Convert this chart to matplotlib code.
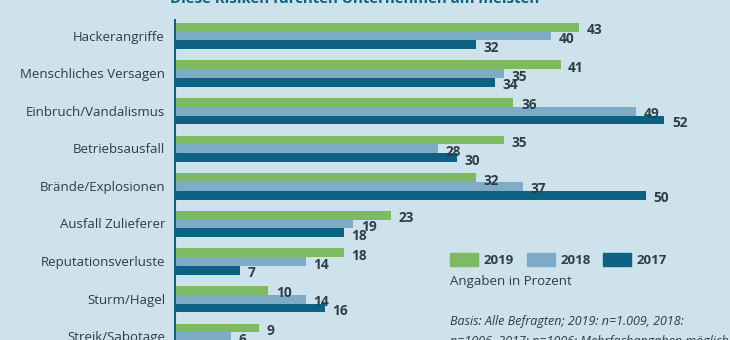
import matplotlib
matplotlib.use("Agg")
import matplotlib.pyplot as plt
import numpy as np

categories = ["Hackerangriffe", "Menschliches Versagen", "Einbruch/Vandalismus",
              "Betriebsausfall", "Brände/Explosionen", "Ausfall Zulieferer",
              "Reputationsverluste", "Sturm/Hagel", "Streik/Sabotage"]
v2019 = [43, 41, 36, 35, 32, 23, 18, 10, 9]
v2018 = [40, 35, 49, 28, 37, 19, 14, 14, 6]
v2017 = [32, 34, 52, 30, 50, 18, 7, 16, 5]
years = ["2019", "2018", "2017"]
colors = ["#7dba62", "#7eacc6", "#0d6283"]

BG = "#cde2eb"
TXT = "#2e3d48"
W, H = 730, 340
fig = plt.figure(figsize=(W / 100, H / 100), dpi=100)
fig.patch.set_facecolor(BG)

ax = fig.add_axes([174 / W, 0, 1 - 174 / W, 1])
ax.set_facecolor(BG)
ax.patch.set_alpha(0)

y = np.arange(len(categories))
bh = 0.235
for k, (vals, c) in enumerate(zip([v2019, v2018, v2017], colors)):
    off = (k - 1) * bh
    ax.barh(y + off, vals, height=bh, color=c, edgecolor="none")
    for yi, v in zip(y, vals):
        ax.text(v + 0.8, yi + off + 0.08, str(v), ha="left", va="center",
                fontsize=9.8, fontweight="bold", color=TXT, family="Open Sans")

ax.set_xlim(0, (W - 174) / 9.43)
spacing = 37.6
c0 = 36
ax.set_ylim((H - c0) / spacing, -c0 / spacing)
ax.set_xticks([])
ax.set_yticks([])
for s in ["top", "right", "bottom", "left"]:
    ax.spines[s].set_visible(False)
ax.axvline(0, ymin=0, ymax=1 - 20 / H, color="#0d6283", lw=2.2)

for yi, cat in zip(y, categories):
    fig.text(165 / W, 1 - (c0 + spacing * yi + 1) / H, cat, ha="right", va="center",
             fontsize=9.5, color=TXT, family="Open Sans")

# title (cut off at top)
fig.text(355 / W, 1 - (-1) / H, "Diese Risiken fürchten Unternehmen am meisten",
         ha="center", va="center", fontsize=10.8, fontweight="bold",
         color="#0d6283", family="Open Sans")

# legend
lx = [450, 527, 603]
for x0, c, yr in zip(lx, colors, years):
    fig.patches.append(plt.Rectangle((x0 / W, 1 - 266 / H), 28 / W, 13 / H,
                                     transform=fig.transFigure, color=c))
    fig.text((x0 + 34) / W, 1 - 260 / H, yr, ha="left", va="center",
             fontsize=9.5, fontweight="bold", color=TXT, family="Open Sans")
fig.text(450 / W, 1 - 282 / H, "Angaben in Prozent", ha="left", va="center",
         fontsize=9.5, color=TXT, family="Open Sans")
fig.text(450 / W, 1 - 322 / H, "Basis: Alle Befragten; 2019: n=1.009, 2018:",
         ha="left", va="center", fontsize=9, style="italic", color=TXT,
         family="Open Sans")
fig.text(450 / W, 1 - 341 / H, "n=1006, 2017: n=1006; Mehrfachangaben möglich",
         ha="left", va="center", fontsize=9, style="italic", color=TXT,
         family="Open Sans")

fig.savefig("out.png", dpi=100, facecolor=BG)
